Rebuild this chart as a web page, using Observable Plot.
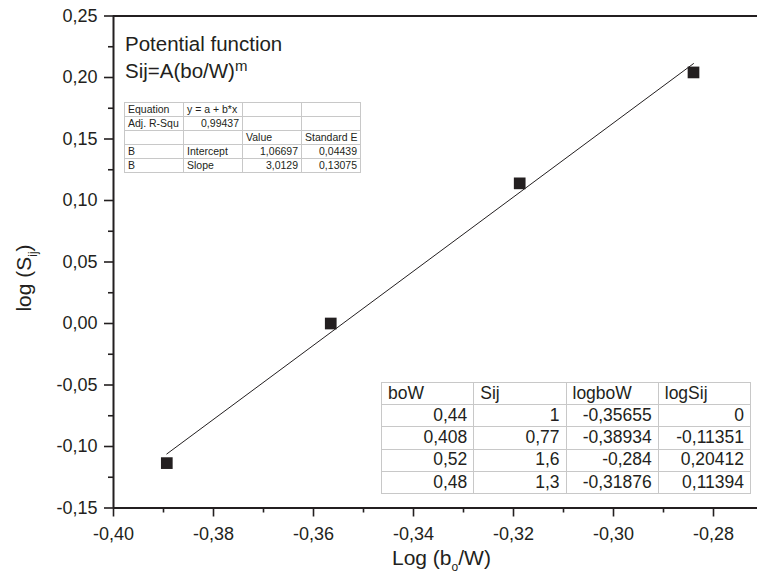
<!DOCTYPE html>
<html><head><meta charset="utf-8">
<script src="https://cdn.jsdelivr.net/npm/d3@7"></script>
<script src="https://cdn.jsdelivr.net/npm/@observablehq/plot@0.6"></script>
<style>
body{margin:0;background:#fff;}
#wrap{position:relative;width:757px;height:583px;font-family:"Liberation Sans",Arial,sans-serif;color:#231f20;overflow:hidden;}
#wrap svg{position:absolute;left:0;top:0;}
#wrap svg text{font-family:"Liberation Sans",Arial,sans-serif;}
table.t{position:absolute;border-collapse:collapse;table-layout:fixed;background:#fff;}
table.t td{border:1px solid #c8c8c8;padding:0 3px;white-space:nowrap;overflow:hidden;line-height:1;}
table.t td.r{text-align:right;}
#fit{left:124px;top:102px;width:237px;height:69px;border:1.5px solid #555;font-size:10.5px;}
#fit td{height:13px;}
#dat{left:381px;top:382px;width:370px;height:112px;border:1.5px solid #444;font-size:17.5px;}
#dat td{height:21px;padding:0 6px;}
</style></head><body><div id="wrap"></div><script>
// ---- data ----
const boW = [0.44, 0.408, 0.52, 0.48];
const Sij = [1, 0.77, 1.6, 1.3];
const logboW = [-0.35655, -0.38934, -0.284, -0.31876];
const logSij = [0, -0.11351, 0.20412, 0.11394];
const boWLabels = ["0,44", "0,408", "0,52", "0,48"];
const SijLabels = ["1", "0,77", "1,6", "1,3"];
const logboWLabels = ["-0,35655", "-0,38934", "-0,284", "-0,31876"];
const logSijLabels = ["0", "-0,11351", "0,20412", "0,11394"];
const fitIntercept = 1.06697, fitSlope = 3.0129;
const fitLabels = {eq: "y = a + b*x", r2: "0,99437", int: "1,06697", intErr: "0,04439", slope: "3,0129", slopeErr: "0,13075"};
const xTicks = [-0.40, -0.38, -0.36, -0.34, -0.32, -0.30, -0.28];
const xMinor = [-0.39, -0.37, -0.35, -0.33, -0.31, -0.29];
const yTicks = [-0.15, -0.10, -0.05, 0.00, 0.05, 0.10, 0.15, 0.20, 0.25];
const yMinor = [-0.125, -0.075, -0.025, 0.025, 0.075, 0.125, 0.175, 0.225];

const pts = logboW.map((x, i) => ({x, y: logSij[i]}));
const xmin = d3.min(logboW), xmax = d3.max(logboW);
const fitPts = [xmin, xmax].map(x => ({x, y: fitIntercept + fitSlope * x}));
const fmt = d => d3.format(".2f")(d).replace(".", ",").replace("\u2212", "-");
const ink = "#231f20";

const chart = Plot.plot({
  width: 757, height: 583,
  marginLeft: 113, marginRight: 0, marginTop: 15.5, marginBottom: 75.5,
  x: {domain: [-0.40, -0.2712]},
  y: {domain: [-0.15, 0.25]},
  style: {fontFamily: "Liberation Sans, Arial, sans-serif", fontSize: "18px", color: ink, background: "#fff", overflow: "visible"},
  marks: [
    Plot.axisX({ticks: xTicks, tickSize: 9, tickPadding: 10, tickFormat: fmt, strokeWidth: 1.6, label: null, fontSize: 18}),
    Plot.axisX({ticks: xMinor, tickSize: 5, tickFormat: () => "", strokeWidth: 1.6, label: null}),
    Plot.axisY({ticks: yTicks, tickSize: 9, tickPadding: 7, tickFormat: fmt, strokeWidth: 1.6, label: null, fontSize: 18}),
    Plot.axisY({ticks: yMinor, tickSize: 5, tickFormat: () => "", strokeWidth: 1.6, label: null}),
    Plot.ruleY([-0.15], {stroke: ink, strokeWidth: 2}),
    Plot.ruleY([0.25], {stroke: ink, strokeWidth: 2}),
    Plot.ruleX([-0.40], {stroke: ink, strokeWidth: 2}),
    Plot.line(fitPts, {x: "x", y: "y", stroke: ink, strokeWidth: 1}),
    Plot.dot(pts, {x: "x", y: "y", symbol: "square", r: 6.6, fill: ink, stroke: "none"})
  ]
});
const wrap = document.getElementById("wrap");
wrap.appendChild(chart);

const svg = d3.select(chart);
// x title
const xt = svg.append("text").attr("x", 392).attr("y", 565).attr("fill", ink)
  .attr("text-anchor", "start").style("font-size", "21px");
xt.append("tspan").text("Log (b");
xt.append("tspan").attr("dy", 6).style("font-size", "12px").text("o");
xt.append("tspan").attr("dy", -6).text("/W)");
// y title
const yt = svg.append("text").attr("transform", "translate(31,278) rotate(-90)")
  .attr("text-anchor", "middle").attr("fill", ink).style("font-size", "21px");
yt.append("tspan").text("log (S");
yt.append("tspan").attr("dy", 6).style("font-size", "12px").text("ij");
yt.append("tspan").attr("dy", -6).text(")");
// annotation
svg.append("text").attr("x", 125).attr("y", 51).attr("fill", ink).attr("text-anchor", "start")
  .style("font-size", "20.5px").text("Potential function");
const an = svg.append("text").attr("x", 125).attr("y", 78).attr("fill", ink).attr("text-anchor", "start")
  .style("font-size", "20.5px");
an.append("tspan").text("Sij=A(bo/W)");
an.append("tspan").attr("dy", -7).style("font-size", "15px").text("m");

// fit table
const fitRows = [
  [["Equation", ""], [fitLabels.eq, ""], ["", ""], ["", ""]],
  [["Adj. R-Squ", ""], [fitLabels.r2, "r"], ["", ""], ["", ""]],
  [["", ""], ["", ""], ["Value", ""], ["Standard E", ""]],
  [["B", ""], ["Intercept", ""], [fitLabels.int, "r"], [fitLabels.intErr, "r"]],
  [["B", ""], ["Slope", ""], [fitLabels.slope, "r"], [fitLabels.slopeErr, "r"]]
];
function makeTable(id, rows) {
  const t = document.createElement("table");
  t.className = "t"; t.id = id;
  for (const r of rows) {
    const tr = t.insertRow();
    for (const [txt, cls] of r) { const td = tr.insertCell(); td.textContent = txt; if (cls) td.className = cls; }
  }
  wrap.appendChild(t);
}
makeTable("fit", fitRows);
const datRows = [[["boW", ""], ["Sij", ""], ["logboW", ""], ["logSij", ""]]]
  .concat(boW.map((_, i) => [[boWLabels[i], "r"], [SijLabels[i], "r"], [logboWLabels[i], "r"], [logSijLabels[i], "r"]]));
makeTable("dat", datRows);
</script></body></html>
